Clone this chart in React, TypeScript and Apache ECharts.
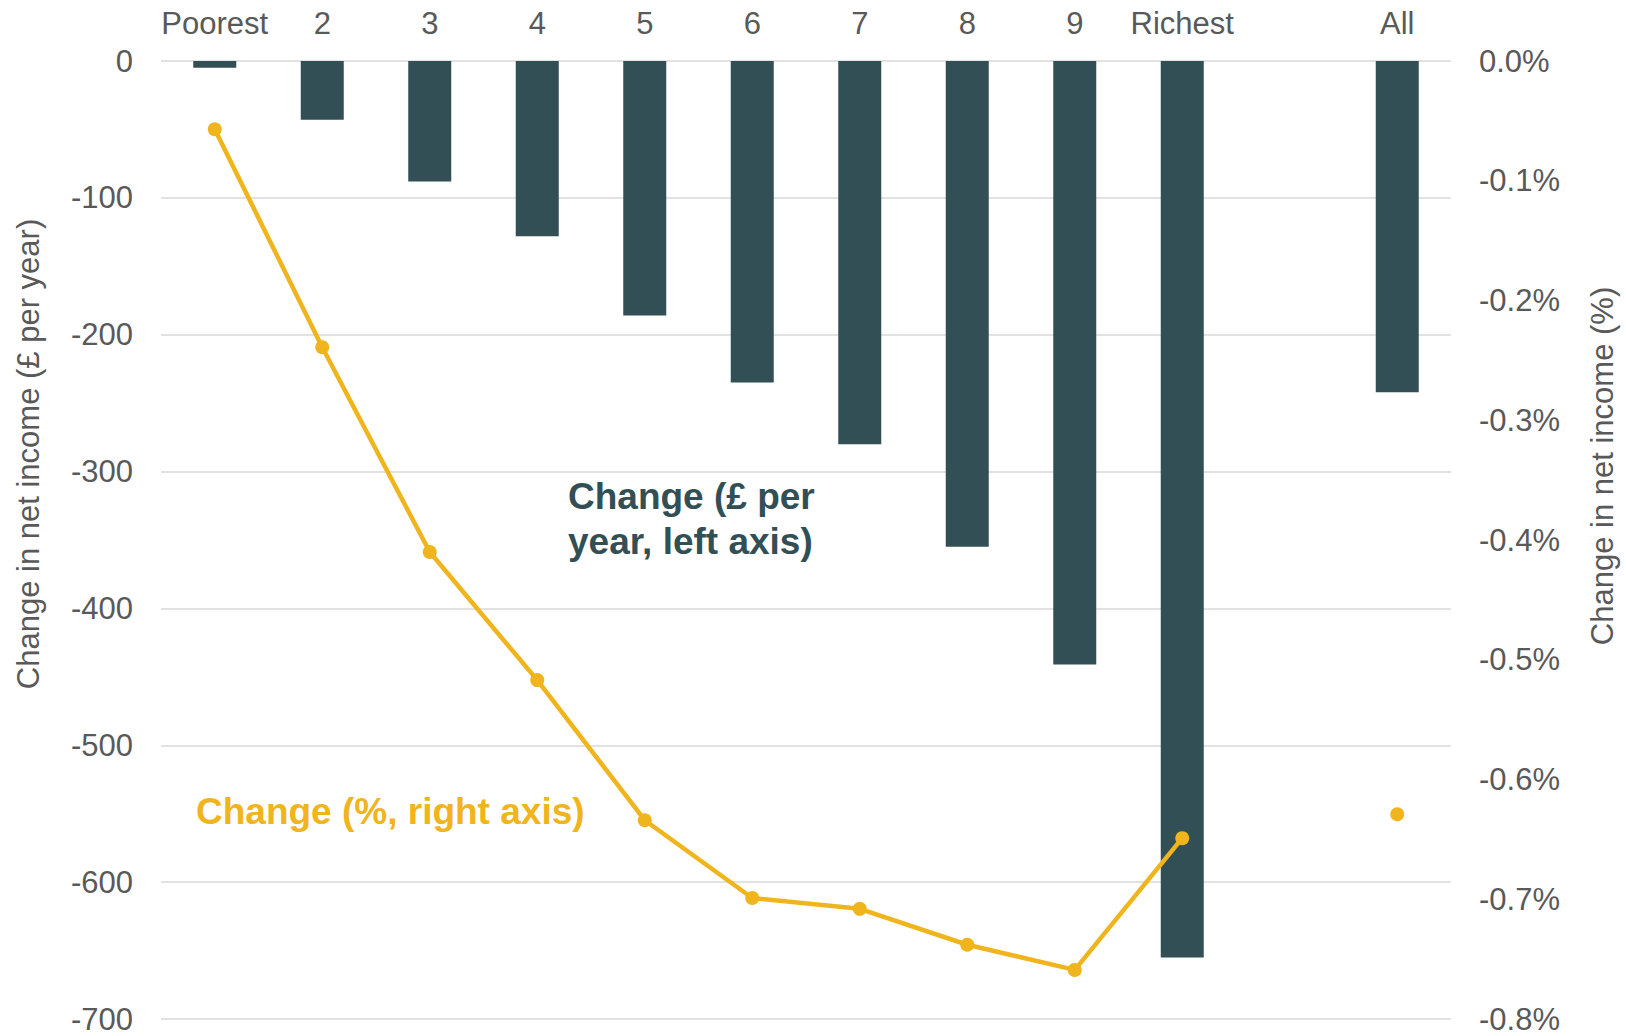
import React, { useEffect, useRef } from "react";
import * as echarts from "echarts";

const categories = ["Poorest", "2", "3", "4", "5", "6", "7", "8", "9", "Richest", "", "All"];
const changeGBP = [-5, -43, -88, -128, -186, -235, -280, -355, -441, -655, null, -242];
const changePct = [-0.057, -0.239, -0.41, -0.517, -0.634, -0.699, -0.708, -0.738, -0.759, -0.649, null, -0.629];
const leftTicks = { min: -700, max: 0, interval: 100 };
const rightTicks = { min: -0.8, max: 0, interval: 0.1 };

const FONT = '"Liberation Sans", Arial, sans-serif';
const GREY = "#595959";
const TEAL = "#334F56";
const GOLD = "#F0B41C";

export default function App() {
  const ref = useRef<HTMLDivElement>(null);
  useEffect(() => {
    if (!ref.current) return;
    const chart = echarts.init(ref.current, null, { renderer: "svg" });
    chart.setOption({
      animation: false,
      backgroundColor: "#ffffff",
      textStyle: { fontFamily: FONT },
      grid: { left: 161, right: 175, top: 61, bottom: 17, containLabel: false },
      xAxis: {
        type: "category",
        data: categories,
        position: "top",
        axisLine: { show: false },
        axisTick: { show: false },
        axisLabel: { interval: 0, margin: 22, fontSize: 31, color: GREY, fontFamily: FONT },
        splitLine: { show: false },
      },
      yAxis: [
        {
          type: "value",
          min: leftTicks.min,
          max: leftTicks.max,
          interval: leftTicks.interval,
          axisLine: { show: false },
          axisTick: { show: false },
          axisLabel: { margin: 28, fontSize: 31, color: GREY, fontFamily: FONT },
          splitLine: { show: true, lineStyle: { color: "#D9D9D9", width: 1.6 } },
        },
        {
          type: "value",
          min: rightTicks.min,
          max: rightTicks.max,
          interval: rightTicks.interval,
          alignTicks: false,
          axisLine: { show: false },
          axisTick: { show: false },
          axisLabel: {
            margin: 28,
            fontSize: 31,
            color: GREY,
            fontFamily: FONT,
            formatter: (v: number) => (Math.abs(v) < 1e-9 ? "0.0" : v.toFixed(1)) + "%",
          },
          splitLine: { show: false },
        },
      ],
      series: [
        {
          name: "Change (£ per year, left axis)",
          type: "bar",
          yAxisIndex: 0,
          data: changeGBP,
          barWidth: 43,
          itemStyle: { color: TEAL },
        },
        {
          name: "Change (%, right axis)",
          type: "line",
          yAxisIndex: 1,
          data: changePct,
          connectNulls: false,
          symbol: "circle",
          symbolSize: 14,
          showSymbol: true,
          lineStyle: { color: GOLD, width: 4.5 },
          itemStyle: { color: GOLD },
          z: 5,
        },
      ],
      graphic: [
        {
          type: "text",
          x: 28,
          y: 454,
          rotation: Math.PI / 2,
          style: {
            text: "Change in net income (£ per year)",
            fontSize: 31,
            fontFamily: FONT,
            fill: GREY,
            align: "center",
            verticalAlign: "middle",
          },
        },
        {
          type: "text",
          x: 1602,
          y: 466,
          rotation: Math.PI / 2,
          style: {
            text: "Change in net income (%)",
            fontSize: 31,
            fontFamily: FONT,
            fill: GREY,
            align: "center",
            verticalAlign: "middle",
          },
        },
        {
          type: "text",
          x: 568,
          y: 519,
          style: {
            text: "Change (£ per\nyear, left axis)",
            fontSize: 37,
            fontWeight: "bold",
            lineHeight: 45,
            fontFamily: FONT,
            fill: TEAL,
            align: "left",
            verticalAlign: "middle",
          },
        },
        {
          type: "text",
          x: 196,
          y: 811,
          style: {
            text: "Change (%, right axis)",
            fontSize: 37,
            fontWeight: "bold",
            fontFamily: FONT,
            fill: GOLD,
            align: "left",
            verticalAlign: "middle",
          },
        },
      ],
    });
    return () => chart.dispose();
  }, []);
  return (
    <div
      ref={ref}
      style={{ position: "fixed", left: 0, top: 0, width: 1626, height: 1036, background: "#fff" }}
    />
  );
}
